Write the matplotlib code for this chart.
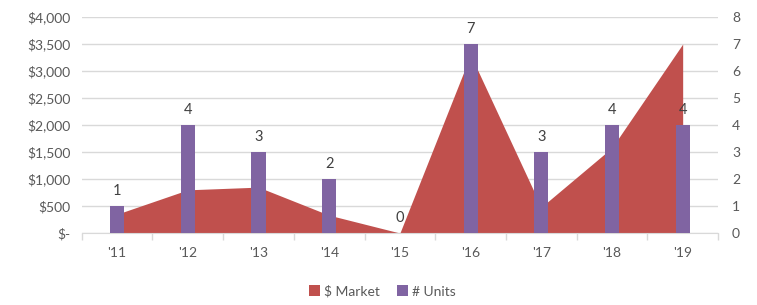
import matplotlib.pyplot as plt
import matplotlib.ticker as mticker
import numpy as np

# data
years = ["'11", "'12", "'13", "'14", "'15", "'16", "'17", "'18", "'19"]
market = [350, 800, 850, 330, 0, 3300, 480, 1580, 3500]
units = [1, 4, 3, 2, 0, 7, 3, 4, 4]

red = '#C0504D'
purple = '#8064A2'
txt = '#595959'
grid = '#D9D9D9'

plt.rcParams['font.family'] = ['Lato', 'DejaVu Sans']
plt.rcParams['font.size'] = 10

fig = plt.figure(figsize=(7.57, 3.05), dpi=100)
ax = fig.add_axes([0.108, 0.236, 0.8405, 0.708])
x = np.arange(len(years))

ax.fill_between(x, market, 0, color=red, linewidth=0, label='$ Market', zorder=2)
ax.set_ylim(0, 4000)
ax.set_xlim(-0.5, len(years) - 0.5)
ax.yaxis.set_major_locator(mticker.MultipleLocator(500))
ax.yaxis.set_major_formatter(
    mticker.FuncFormatter(lambda v, p: '$-' if v == 0 else '${:,.0f}'.format(v)))
ax.grid(axis='y', color=grid, linewidth=1, zorder=0)
ax.set_axisbelow(True)

ax.set_xticks(x)
ax.set_xticklabels(years)
ax.set_xticks(np.arange(-0.5, len(years)), minor=True)
ax.tick_params(axis='x', which='major', length=0, pad=10, colors=txt, labelsize=10)
ax.tick_params(axis='x', which='minor', length=5, color=grid, width=1)
ax.tick_params(axis='y', length=0, pad=8, colors=txt, labelsize=10)

for s in ['top', 'left', 'right']:
    ax.spines[s].set_visible(False)
ax.spines['bottom'].set_color(grid)

ax2 = ax.twinx()
bars = ax2.bar(x, units, width=0.2, color=purple, label='# Units', zorder=3)
ax2.set_ylim(0, 8)
ax2.yaxis.set_major_locator(mticker.MultipleLocator(1))
ax2.tick_params(axis='y', length=0, pad=10, colors=txt, labelsize=10)
for s in ['top', 'left', 'right', 'bottom']:
    ax2.spines[s].set_visible(False)
ax2.bar_label(bars, labels=[str(u) for u in units], padding=6, color='#404040', fontsize=10.5)

h1, l1 = ax.get_legend_handles_labels()
h2, l2 = ax2.get_legend_handles_labels()
fig.legend(h1 + h2, l1 + l2, loc='center', bbox_to_anchor=(0.505, 0.045), ncol=2,
           frameon=False, handlelength=0.8, handleheight=0.8, handletextpad=0.3,
           columnspacing=1.2, labelcolor=txt, fontsize=10)

fig.savefig('out.png', dpi=100)
